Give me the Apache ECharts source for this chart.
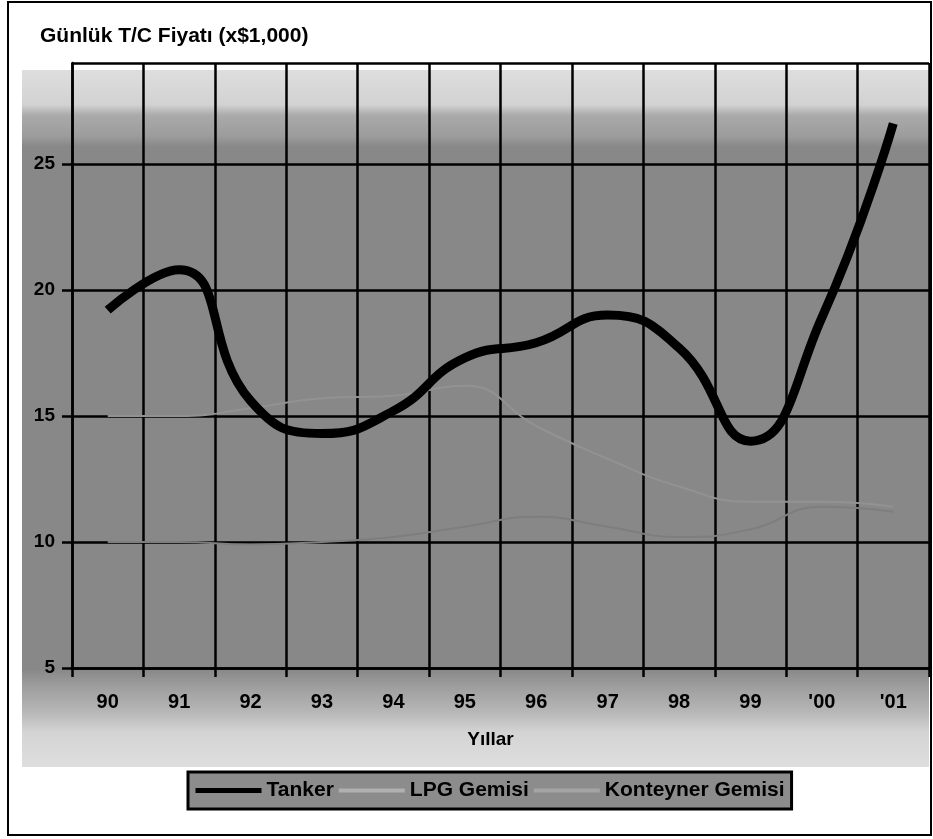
<!DOCTYPE html>
<html>
<head>
<meta charset="utf-8">
<script src="https://cdn.jsdelivr.net/npm/echarts@6/dist/echarts.min.js"></script>
<style>
html,body{margin:0;padding:0;background:#fff;}
#chart{width:933px;height:839px;}
</style>
</head>
<body>
<div id="chart"></div>
<script>
// ---- data ----
const categories = ['90', '91', '92', '93', '94', '95', '96', '97', '98', '99', "'00", "'01"];
const tanker     = [19.2, 20.8, 15.6, 14.3, 15.2, 17.3, 17.9, 19.0, 17.7, 14.0, 18.9, 26.6];
const lpgGemisi  = [15.0, 15.0, 15.3, 15.7, 15.8, 16.2, 14.6, 13.3, 12.2, 11.6, 11.6, 11.4];
const konteyner  = [10.0, 10.0, 9.9, 10.0, 10.2, 10.6, 11.0, 10.6, 10.2, 10.5, 11.4, 11.2];
const seriesNames = ['Tanker', 'LPG Gemisi', 'Konteyner Gemisi'];
const yMin = 5, yMax = 29, yStep = 5;
const titleText = 'Günlük T/C Fiyatı (x$1,000)';
const xAxisName = 'Yıllar';

const FONT = '"Liberation Sans", Arial, sans-serif';
const chart = echarts.init(document.getElementById('chart'), null, {renderer: 'canvas'});

chart.setOption({
  backgroundColor: '#ffffff',
  animation: false,
  title: {
    text: titleText,
    left: 35, top: 21,
    textStyle: {fontFamily: FONT, fontWeight: 'bold', fontSize: 21, color: '#000'}
  },
  graphic: [
    { type: 'rect', z: -100, silent: true,
      shape: {x: 22, y: 70, width: 907, height: 697},
      style: {
        fill: new echarts.graphic.LinearGradient(0, 0, 0, 1, [
          {offset: 0.00, color: '#dedede'},
          {offset: 0.05, color: '#d2d2d2'},
          {offset: 0.065, color: '#aaaaaa'},
          {offset: 0.095, color: '#9c9c9c'},
          {offset: 0.11, color: '#888888'},
          {offset: 0.86, color: '#888888'},
          {offset: 0.885, color: '#9e9e9e'},
          {offset: 0.92, color: '#b6b6b6'},
          {offset: 0.95, color: '#d4d4d4'},
          {offset: 1.00, color: '#dedede'}
        ])
      }
    },
    { type: 'rect', z: 100, silent: true,
      shape: {x: 8, y: 2, width: 923, height: 833},
      style: {fill: 'none', stroke: '#000', lineWidth: 2}
    }
  ],
  legend: {
    left: 188, top: 772,
    data: [
      {name: seriesNames[0], lineStyle: {width: 5, color: '#000'}},
      {name: seriesNames[1], lineStyle: {width: 4, color: '#b0b0b0'}},
      {name: seriesNames[2], lineStyle: {width: 4, color: '#a4a4a4'}}
    ],
    itemStyle: {opacity: 0},
    itemWidth: 66, itemHeight: 14, itemGap: 3,
    padding: [8, 7, 8, 5],
    backgroundColor: '#8c8c8c',
    borderColor: '#000', borderWidth: 3, borderRadius: 0,
    textStyle: {fontFamily: FONT, fontWeight: 'bold', fontSize: 21, color: '#000'}
  },
  grid: {left: 72, right: 4, top: 63, bottom: 171, containLabel: false},
  xAxis: {
    type: 'category',
    data: categories,
    boundaryGap: true,
    name: xAxisName,
    nameLocation: 'middle',
    nameGap: 62,
    nameTextStyle: {fontFamily: FONT, fontWeight: 'bold', fontSize: 19, color: '#000', padding: [0, 20, 0, 0]},
    axisLine: {show: true, lineStyle: {color: '#000', width: 2.5}},
    axisTick: {show: true, length: 9, lineStyle: {color: '#000', width: 2.5}},
    splitLine: {show: true, lineStyle: {color: '#000', width: 2.5}},
    axisLabel: {fontFamily: FONT, fontWeight: 'bold', fontSize: 20, color: '#000', margin: 24}
  },
  yAxis: {
    type: 'value',
    min: yMin, max: yMax, interval: yStep,
    axisLine: {show: true, lineStyle: {color: '#000', width: 2.5}},
    axisTick: {show: true, length: 10, lineStyle: {color: '#000', width: 2.5}},
    splitLine: {show: true, lineStyle: {color: '#000', width: 2.5}},
    axisLabel: {fontFamily: FONT, fontWeight: 'bold', fontSize: 19, color: '#000', margin: 17, showMaxLabel: false}
  },
  series: [
    {name: seriesNames[1], type: 'line', data: lpgGemisi, smooth: 0.5, symbol: 'none',
     lineStyle: {color: '#929292', width: 2}, itemStyle: {color: '#b0b0b0'}, z: 3},
    {name: seriesNames[2], type: 'line', data: konteyner, smooth: 0.5, symbol: 'none',
     lineStyle: {color: '#7e7e7e', width: 2}, itemStyle: {color: '#a4a4a4'}, z: 3},
    {name: seriesNames[0], type: 'line', data: tanker, smooth: 0.5, symbol: 'none',
     lineStyle: {color: '#000', width: 9}, itemStyle: {color: '#000'}, z: 5}
  ]
});
</script>
</body>
</html>
